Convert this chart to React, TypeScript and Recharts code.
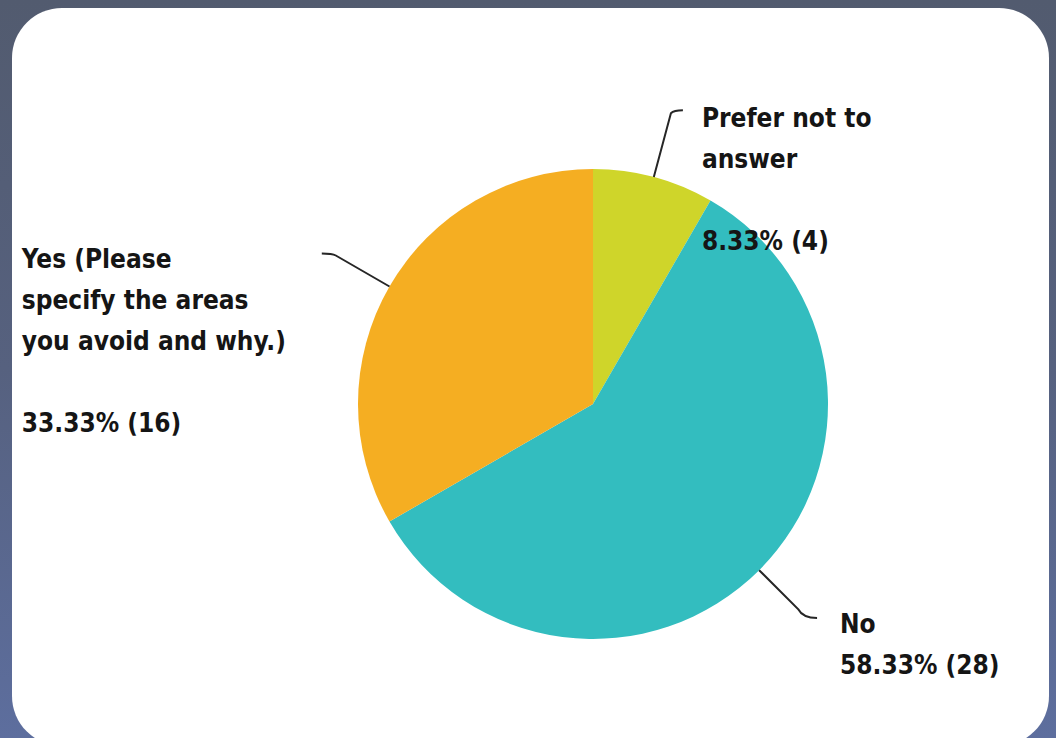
import React from "react";
import { Cell, Pie, PieChart } from "recharts";

const answers = ["Prefer not to answer", "No", "Yes (Please specify the areas you avoid and why.)"];
const counts = [4, 28, 16];
const answerLines = [
  ["Prefer not to", "answer"],
  ["No"],
  ["Yes (Please", "specify the areas", "you avoid and why.)"],
];
const sliceColors = ["#CFD52A", "#33BDBF", "#F5AE22"];

const total = counts.reduce((a, b) => a + b, 0);
const data = answers.map((name, i) => ({ name, value: counts[i], lines: answerLines[i] }));

// leader line + text placement per slice
const labelLayout = [
  { lead: 66, hookX: 12, hookY: -3, textDx: 19, textDy: 16.5, gap: 1 },
  { lead: 55, hookX: 19, hookY: 9, textDx: 23, textDy: 14.5, gap: 0 },
  { lead: 62, hookX: -14, hookY: -2, textDx: -300, textDy: 14, gap: 1 },
];

const LINE_H = 41;
const RAD = Math.PI / 180;

function SliceLabel(props: any) {
  const { cx, cy, midAngle, outerRadius, index, value, payload } = props;
  const cfg = labelLayout[index];
  const cos = Math.cos(-midAngle * RAD);
  const sin = Math.sin(-midAngle * RAD);
  const sx = cx + outerRadius * cos;
  const sy = cy + outerRadius * sin;
  const mx = sx + cfg.lead * cos;
  const my = sy + cfg.lead * sin;
  const ex = mx + cfg.hookX;
  const ey = my + cfg.hookY;
  const qx = mx + cfg.hookX * 0.25;
  const qy = ey;
  const pct = ((value / total) * 100).toFixed(2) + "% (" + value + ")";
  const lines: string[] = [...payload.lines];
  for (let i = 0; i < cfg.gap; i++) lines.push("");
  lines.push(pct);
  const tx = ex + cfg.textDx;
  const ty = ey + cfg.textDy;
  return (
    <g>
      <path
        d={`M${sx},${sy} L${mx},${my} Q${qx},${qy} ${ex},${ey}`}
        stroke="#262626"
        strokeWidth={2}
        fill="none"
      />
      <text
        x={tx}
        y={ty}
        fill="#151515"
        fontFamily="'DejaVu Sans Condensed', 'DejaVu Sans', sans-serif"
        fontWeight="bold"
        fontSize={26}
      >
        {lines.map((l, i) => (
          <tspan key={i} x={tx} y={ty + i * LINE_H}>
            {l}
          </tspan>
        ))}
      </text>
    </g>
  );
}

export default function App() {
  return (
    <div
      style={{
        position: "absolute",
        left: 0,
        top: 0,
        width: 1056,
        height: 738,
        overflow: "hidden",
        background: "linear-gradient(180deg, #525B6F 0%, #56617F 50%, #5D6E9E 100%)",
      }}
    >
      <div
        style={{
          position: "absolute",
          left: 12,
          top: 8,
          width: 1037,
          height: 738,
          borderRadius: 50,
          background: "#fff",
        }}
      />
      <div style={{ position: "absolute", left: 0, top: 0 }}>
        <PieChart width={1056} height={738} margin={{ top: 0, right: 0, bottom: 0, left: 0 }}>
          <Pie
            data={data}
            dataKey="value"
            nameKey="name"
            cx={593}
            cy={404}
            outerRadius={235}
            startAngle={90}
            endAngle={-270}
            stroke="none"
            labelLine={false}
            label={SliceLabel}
            isAnimationActive={false}
          >
            {data.map((d, i) => (
              <Cell key={d.name} fill={sliceColors[i]} />
            ))}
          </Pie>
        </PieChart>
      </div>
    </div>
  );
}
